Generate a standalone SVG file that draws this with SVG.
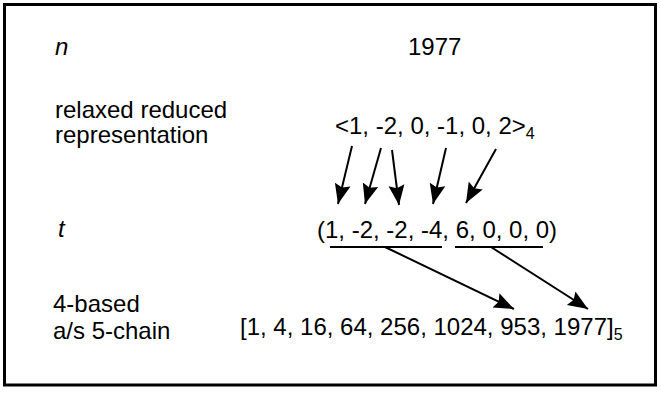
<svg xmlns="http://www.w3.org/2000/svg" width="661" height="394" viewBox="0 0 661 394">
<style>
  text { font-family: "Liberation Sans", Arial, sans-serif; font-size: 24px; fill: #000; }
  .it { font-style: italic; }
  .sub { font-size: 16px; }
  .conn line { stroke: #000; stroke-width: 2; }
  .arr { marker-end: url(#ah); }
</style>
<defs>
  <marker id="ah" markerUnits="userSpaceOnUse" markerWidth="22" markerHeight="18" refX="20" refY="8" orient="auto" viewBox="0 0 22 16">
    <path d="M0,0 L20,8 L0,16 L3,8 z" fill="#000"/>
  </marker>
</defs>
<rect x="4.5" y="4.5" width="651" height="380.5" fill="#fff" stroke="#000" stroke-width="3"/>

<g id="labels">
  <text class="it" x="55" y="55">n</text>
  <text x="55" y="118">relaxed reduced</text>
  <text x="55" y="143">representation</text>
  <text class="it" x="58" y="237">t</text>
  <text x="53" y="312">4-based</text>
  <text x="53" y="339">a/s 5-chain</text>
</g>

<g id="n-value">
  <text x="408" y="55">1977</text>
</g>

<g id="representation">
  <text x="335" y="134">&lt;1, -2, 0, -1, 0, 2&gt;<tspan class="sub" dy="5">4</tspan></text>
</g>

<g id="t-vector">
  <text x="317" y="238">(1, -2, -2, -4, 6, 0, 0, 0)</text>
</g>

<g id="chain">
  <text x="240" y="335">[1, 4, 16, 64, 256, 1024, 953, 1977]<tspan class="sub" dy="5">5</tspan></text>
</g>

<g id="connectors" class="conn">
  <line class="arr" x1="352" y1="146" x2="338" y2="204"/>
  <line class="arr" x1="381" y1="148" x2="365" y2="204"/>
  <line class="arr" x1="392" y1="150" x2="399" y2="205"/>
  <line class="arr" x1="446" y1="148" x2="433" y2="204"/>
  <line class="arr" x1="496" y1="149" x2="466" y2="203"/>
  <line x1="330" y1="247" x2="442" y2="247"/>
  <line x1="455" y1="247" x2="543" y2="247"/>
  <line class="arr" x1="385" y1="247" x2="514" y2="309"/>
  <line class="arr" x1="491" y1="247" x2="588" y2="309"/>
</g>
</svg>
